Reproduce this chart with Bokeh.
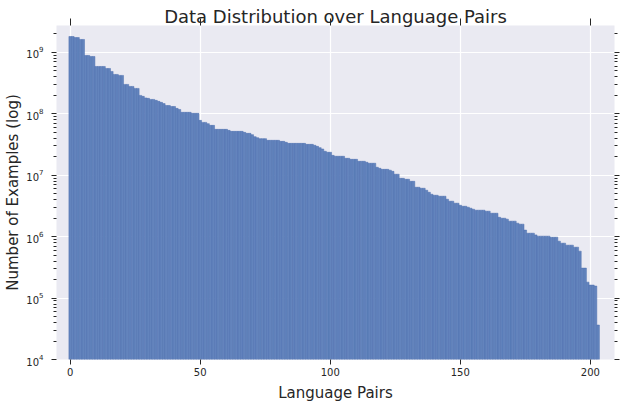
from bokeh.plotting import figure
from bokeh.models import (ColumnDataSource, FixedTicker, LinearAxis, LogAxis,
                          Range1d, CustomJSTickFormatter)
from bokeh.embed import file_html
from bokeh.resources import INLINE

# ---- data ----
title_text = "Data Distribution over Language Pairs"
x_label = "Language Pairs"
y_label = "Number of Examples (log)"
x_ticks = [0, 50, 100, 150, 200]
y_decades = [1e4, 1e5, 1e6, 1e7, 1e8, 1e9]

examples = [
    1.82e9, 1.82e9, 1.75e9, 1.75e9, 1.63e9, 1.63e9, 8.93e8, 8.93e8, 8.61e8, 8.61e8,
    5.92e8, 5.92e8, 5.92e8, 5.92e8, 5.49e8, 5.49e8, 4.91e8, 4.39e8, 4.39e8, 4.23e8,
    4.23e8, 3.02e8, 3.02e8, 2.80e8, 2.80e8, 2.60e8, 2.60e8, 2.00e8, 1.93e8, 1.82e8,
    1.79e8, 1.72e8, 1.72e8, 1.66e8, 1.60e8, 1.54e8, 1.47e8, 1.37e8, 1.37e8, 1.32e8,
    1.32e8, 1.23e8, 1.18e8, 1.06e8, 1.06e8, 1.06e8, 1.06e8, 1.02e8, 1.02e8, 1.02e8,
    7.84e7, 7.27e7, 7.27e7, 6.93e7, 6.50e7, 6.50e7, 5.60e7, 5.60e7, 5.60e7, 5.60e7,
    5.60e7, 5.39e7, 5.19e7, 5.19e7, 5.19e7, 5.19e7, 5.19e7, 5.00e7, 4.82e7, 4.82e7,
    4.59e7, 4.26e7, 4.10e7, 3.95e7, 3.95e7, 3.95e7, 3.71e7, 3.71e7, 3.71e7, 3.71e7,
    3.71e7, 3.57e7, 3.57e7, 3.44e7, 3.31e7, 3.31e7, 3.31e7, 3.31e7, 3.31e7, 3.31e7,
    3.31e7, 3.19e7, 3.19e7, 3.19e7, 3.08e7, 2.96e7, 2.82e7, 2.68e7, 2.46e7, 2.37e7,
    2.37e7, 2.11e7, 2.04e7, 2.04e7, 2.04e7, 2.04e7, 1.89e7, 1.89e7, 1.82e7, 1.82e7,
    1.82e7, 1.69e7, 1.69e7, 1.69e7, 1.63e7, 1.57e7, 1.57e7, 1.57e7, 1.35e7, 1.30e7,
    1.25e7, 1.25e7, 1.25e7, 1.21e7, 1.16e7, 1.04e7, 1.04e7, 8.93e6, 8.93e6, 8.61e6,
    8.61e6, 7.98e6, 7.98e6, 6.38e6, 6.38e6, 6.15e6, 6.15e6, 5.71e6, 5.29e6, 4.91e6,
    4.73e6, 4.73e6, 4.56e6, 4.56e6, 4.56e6, 4.07e6, 3.78e6, 3.78e6, 3.51e6, 3.51e6,
    3.25e6, 3.13e6, 3.13e6, 3.02e6, 2.91e6, 2.80e6, 2.70e6, 2.70e6, 2.70e6, 2.70e6,
    2.60e6, 2.60e6, 2.41e6, 2.41e6, 2.41e6, 2.07e6, 2.00e6, 2.00e6, 1.93e6, 1.79e6,
    1.79e6, 1.79e6, 1.66e6, 1.60e6, 1.60e6, 1.28e6, 1.14e6, 1.14e6, 1.14e6, 1.07e6,
    1.02e6, 1.02e6, 1.02e6, 1.02e6, 1.02e6, 9.82e5, 9.82e5, 9.82e5, 8.45e5, 7.84e5,
    7.84e5, 7.28e5, 7.28e5, 7.28e5, 6.75e5, 6.75e5, 5.81e5, 3.08e5, 3.08e5, 1.82e5,
    1.63e5, 1.63e5, 1.57e5, 3.64e4,
]
pair_index = list(range(len(examples)))

# ---- styling ----
FONT = "DejaVu Sans"
TXT = "#262626"
BG = "#EAEAF2"

source = ColumnDataSource(dict(x=pair_index, top=examples,
                               bottom=[1.0] * len(examples)))

p = figure(width=620, height=404, y_axis_type="log",
           x_range=Range1d(-5.27, 209.3), y_range=Range1d(1e4, 2.75e9),
           output_backend="svg", toolbar_location=None,
           min_border_left=56, min_border_right=6,
           min_border_top=25, min_border_bottom=44)
p.background_fill_color = BG
p.border_fill_color = "white"
p.outline_line_color = None

p.vbar(x="x", top="top", bottom="bottom", width=1.0, source=source,
       fill_color="#6384bd", line_color="#4d6fae", line_width=0.5)

minor = [m * d for d in y_decades for m in range(2, 10)]
yt = FixedTicker(ticks=y_decades, minor_ticks=minor)
xt = FixedTicker(ticks=x_ticks, minor_ticks=[])
blank = CustomJSTickFormatter(code="return ''")

# bottom axis
xa = p.xaxis[0]
xa.ticker = xt
xa.axis_label = x_label
xa.axis_label_text_font = FONT
xa.axis_label_text_font_size = "15px"
xa.axis_label_text_font_style = "normal"
xa.axis_label_text_color = TXT
xa.axis_label_standoff = 5
xa.major_label_text_font = FONT
xa.major_label_text_font_size = "10px"
xa.major_label_text_color = TXT
xa.major_label_standoff = 3
xa.axis_line_color = None
xa.major_tick_line_color = TXT
xa.major_tick_out = 5
xa.major_tick_in = 0
xa.minor_tick_line_color = None

# left axis
ya = p.yaxis[0]
ya.ticker = yt
ya.axis_label = y_label
ya.axis_label_text_font = FONT
ya.axis_label_text_font_size = "15px"
ya.axis_label_text_font_style = "normal"
ya.axis_label_text_color = TXT
ya.axis_label_standoff = 1
ya.major_label_text_font = FONT
ya.major_label_text_font_size = "10px"
ya.major_label_text_color = TXT
ya.major_label_standoff = 8
ya.axis_line_color = None
ya.major_tick_line_color = TXT
ya.major_tick_out = 5
ya.major_tick_in = 0
ya.minor_tick_line_color = TXT
ya.minor_tick_out = 3
ya.minor_tick_in = 0

# right axis (ticks only)
ra = LogAxis(ticker=yt, formatter=blank)
ra.major_label_text_font_size = "1px"
ra.major_label_standoff = 0
ra.axis_line_color = None
ra.major_tick_line_color = TXT
ra.major_tick_out = 5
ra.major_tick_in = 0
ra.minor_tick_line_color = TXT
ra.minor_tick_out = 3
ra.minor_tick_in = 0
p.add_layout(ra, "right")

# top axis: ticks only, its label carries the chart title (overlapping the ticks)
ta = LinearAxis(ticker=xt, formatter=blank)
ta.major_label_text_font_size = "1px"
ta.major_label_standoff = 0
ta.axis_line_color = None
ta.major_tick_line_color = TXT
ta.major_tick_out = 7
ta.major_tick_in = 0
ta.minor_tick_line_color = None
ta.axis_label = title_text
ta.axis_label_text_font = FONT
ta.axis_label_text_font_size = "18px"
ta.axis_label_text_font_style = "normal"
ta.axis_label_text_color = TXT
ta.axis_label_standoff = -8
p.add_layout(ta, "above")

# grid
p.xgrid.ticker = xt
p.ygrid.ticker = FixedTicker(ticks=y_decades, minor_ticks=[])
p.xgrid.grid_line_color = "white"
p.ygrid.grid_line_color = "white"
p.xgrid.grid_line_width = 1.2
p.ygrid.grid_line_width = 1.2

open("out.html", "w").write(file_html(p, INLINE))
